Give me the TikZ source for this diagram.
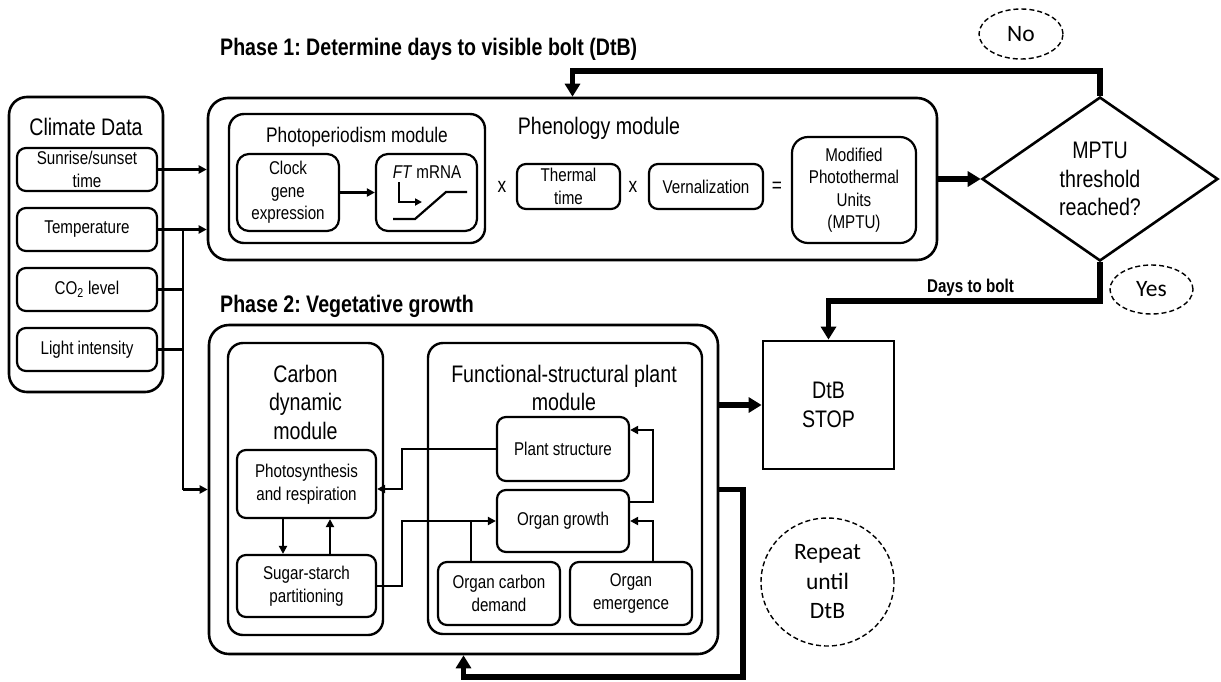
\documentclass[tikz,border=0pt]{standalone}
\usepackage{fontspec}
\setmainfont[FakeStretch=0.82]{Liberation Sans}
\newfontfamily\calfont{Carlito}
\usetikzlibrary{arrows.meta,shapes.geometric}
\newcommand\fbig{\fontsize{23.9}{28.5}\selectfont}
\newcommand\fmid{\fontsize{18.5}{22.5}\selectfont}
\newcommand\fph{\fontsize{21.1}{22}\selectfont}
\newcommand\fcal{\calfont\fontsize{23.5}{29.5}\selectfont}
\begin{document}
\frenchspacing
\begin{tikzpicture}[x=1pt,y=-1pt,line join=miter]
\tikzset{
  sz/.style 2 args={minimum width=#1pt,minimum height=#2pt},
  frame/.style={draw,line width=2.6pt,rounded corners=20pt,inner sep=0pt},
  module/.style={draw,line width=2.4pt,rounded corners=15pt,inner sep=0pt},
  cell/.style={draw,line width=2.2pt,rounded corners=9pt,inner sep=0pt,align=center,font=\fmid},
  lbl/.style={inner sep=0pt,align=center},
  conn/.style={line width=2.2pt,-{Triangle[length=8pt,width=8pt]}},
  plain/.style={line width=2.2pt},
  heavy/.style={line width=5.5pt,-{Triangle[length=13pt,width=15pt]}},
  bubble/.style={draw,dash pattern=on 5pt off 3pt,line width=1.4pt,ellipse,inner sep=0pt,align=center,font=\fcal},
  ttl/.style={inner sep=0pt,font=\bfseries\fbig,anchor=base west},
}
\useasboundingbox[fill=white] (0,0) rectangle (1221,681);

% Climate data
\node[frame,rounded corners=18pt,sz={154}{295}] (climate) at (86,244.5) {};
\node[lbl,font=\fbig] (climT) at (86,127) {Climate Data};
\node[cell,sz={140}{43}] (sun) at (87,169.5) {Sunrise/sunset\\time};
\node[cell,sz={140}{43}] (temp) at (87,229.5) {Temperature};
\node[cell,sz={140}{43}] (co2) at (87,289.5) {CO\textsubscript{2} level};
\node[cell,sz={140}{43}] (light) at (87,349.5) {Light intensity};

% Phase 1
\node[ttl] (t1) at (220,55) {Phase 1: Determine days to visible bolt (DtB)};
\node[frame,sz={729}{162}] (phen) at (572.5,179) {};
\node[module,sz={256}{129}] (photo) at (357,178.5) {};
\node[lbl,font=\fph] (photoT) at (357,137) {Photoperiodism module};
\node[cell,rounded corners=12pt,sz={102}{77}] (clock) at (288,192.5) {Clock\\gene\\expression};
\node[cell,rounded corners=12pt,sz={101}{77}] (ft) at (426.5,192.5) {};
\node[lbl,font=\fmid] (ftT) at (427,172) {\textit{FT} mRNA};
\node[lbl,font=\fbig] (phenT) at (599,128) {Phenology module};
\node[lbl,font=\fph] (x1) at (502,187) {x};
\node[cell,sz={103}{45}] (therm) at (568.5,186.5) {Thermal\\time};
\node[lbl,font=\fph] (x2) at (633,187) {x};
\node[cell,sz={114}{45}] (vern) at (706,186.5) {Vernalization};
\node[lbl,font=\fph] (eq) at (777,187) {=};
\node[cell,rounded corners=16pt,sz={124}{106}] (mptu) at (854,190) {Modified\\Photothermal\\Units\\(MPTU)};

\node[draw,diamond,line width=2.6pt,inner sep=0pt,sz={236}{164},align=center,font=\fbig] (dia) at (1100,179) {MPTU\\threshold\\reached?};
\node[bubble,sz={84}{50}] (no) at (1021,34) {No};
\node[bubble,sz={83}{49}] (yes) at (1151.5,289.5) {Yes};
\node[lbl,font=\bfseries\fmid,anchor=base] (dtbl) at (970.5,292) {Days to bolt};
\node[draw,line width=2.8pt,inner sep=0pt,sz={131}{128},align=center,font=\fbig] (dtb) at (828.5,405) {DtB\\STOP};

% Phase 2
\node[ttl] (t2) at (220,312) {Phase 2: Vegetative growth};
\node[frame,sz={509}{329}] (ph2) at (463.5,489.5) {};
\node[module,sz={155}{292}] (carb) at (305.5,489) {};
\node[lbl,font=\fbig] (carbT) at (305.5,402) {Carbon\\dynamic\\module};
\node[cell,sz={139}{68}] (photos) at (306.5,484) {Photosynthesis\\and respiration};
\node[cell,sz={139}{62}] (sugar) at (306.5,586) {Sugar-starch\\partitioning};
\node[module,sz={274}{291}] (func) at (565,488.5) {};
\node[lbl,font=\fbig] (funcT) at (564,388) {Functional-structural plant\\module};
\node[cell,sz={132}{64}] (plant) at (563,449) {Plant structure};
\node[cell,sz={132}{62}] (growth) at (563,521) {Organ growth};
\node[cell,sz={122}{63}] (demand) at (499,593.5) {Organ carbon\\demand};
\node[cell,sz={122}{63}] (emerg) at (631,593.5) {Organ\\emergence};
\node[bubble,sz={133}{128}] (rep) at (827.5,582) {Repeat\\until\\DtB};

% helper coordinates
\coordinate (bus) at (183,489.5);
\coordinate (nocorner) at (572.5,71);
\coordinate (yescorner) at (828.5,301);
\coordinate (loopc) at (743,677);
\coordinate (j1) at (402,489);
\coordinate (j2) at (402,521);
\coordinate (j3) at (653,430);

% FT icon
\draw[line width=2.2pt,-{Triangle[length=7pt,width=7pt]}] (399,182) -- (399,202) -- (422,202);
\draw[line width=2.2pt] (393,219) -- (415,219) -- (446,192) -- (467,192);

% connectors
\draw[conn] (sun.east) -- (sun.east -| phen.west);
\draw[conn] (temp.east) -- (temp.east -| phen.west);
\draw[plain] (temp.east -| bus) -- (bus);
\draw[plain] (co2.east) -- (co2.east -| bus);
\draw[plain] (light.east) -- (light.east -| bus);
\draw[conn] (bus) -- (bus -| ph2.west);
\draw[conn] (clock.east) -- (ft.west);
\draw[heavy] (phen.east) -- (dia.west);
\draw[heavy] (dia.north) |- (nocorner) -- (phen.north);
\draw[heavy] (dia.south) |- (yescorner) -- (dtb.north);
\draw[heavy] (dtb.west -| ph2.east) -- (dtb.west);
\draw[heavy] (ph2.east) -| (loopc) -| (ph2.south);

\draw[conn] ([xshift=-23.5pt]photos.south) -- ([xshift=-23.5pt]sugar.north);
\draw[conn] ([xshift=23.5pt]sugar.north) -- ([xshift=23.5pt]photos.south);
\draw[conn] (plant.west) -| (j1) -- (j1 -| photos.east);
\draw[conn] (sugar.east) -| (j2) -- (growth.west);
\draw[plain] ([xshift=-28pt]demand.north) -- ([xshift=-28pt]demand.north |- growth.west);
\draw[conn] ([xshift=22pt]emerg.north) |- (growth.east);
\draw[conn] ([yshift=19pt]growth.east) -| (j3) -- (j3 -| plant.east);
\end{tikzpicture}
\end{document}
